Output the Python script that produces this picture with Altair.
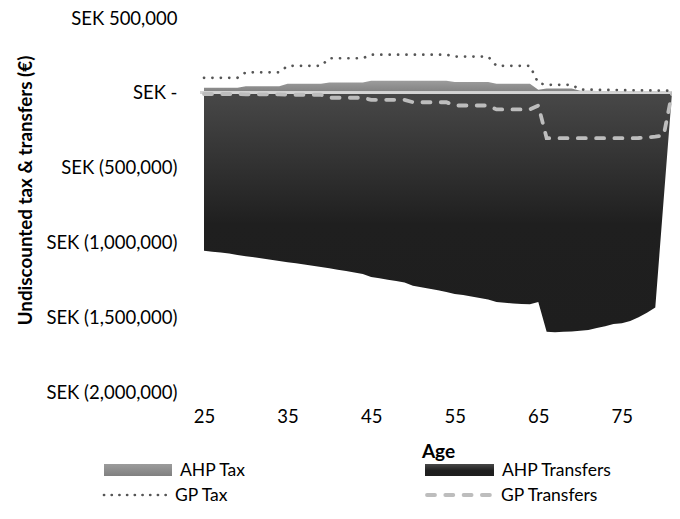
import altair as alt
import pandas as pd

# ---- data (SEK thousands) ----
ages = list(range(25, 82))

ahp_tax = [33] * 5 + [44] * 5 + [60] * 5 + [69] * 5 + [80] * 10 + [73] * 5 + [60] * 5 + \
    [20] + [28] * 4 + [13, 13, 12, 12, 11, 11, 10, 10, 9, 9, 8] + [0]

ahp_transfers = [-1056, -1062, -1068, -1075, -1085, -1092, -1100, -1108, -1116, -1124,
                 -1132, -1140, -1148, -1156, -1164, -1172, -1182, -1192, -1202, -1212,
                 -1232, -1240, -1250, -1258, -1268, -1290, -1300, -1310, -1320, -1332,
                 -1345, -1352, -1362, -1372, -1382, -1398, -1403, -1408, -1412, -1414,
                 -1398, -1598, -1600, -1598, -1596, -1590, -1585, -1572, -1560, -1545,
                 -1540, -1525, -1500, -1470, -1435, -715, 0]

gp_tax = [100] * 5 + [137] * 5 + [180] * 5 + [231] * 5 + [255] * 10 + [242] * 5 + [180] * 5 + \
    [65] + [53] * 4 + [22, 21, 20, 19, 19, 18, 17, 17, 16, 15, 15, 14]

gp_transfers = [-8] * 5 + [-10] * 5 + [-13] * 5 + [-33] * 5 + [-47] * 5 + [-63] * 5 + \
    [-85] * 5 + [-111] * 5 + [-85] + [-303] * 10 + [-304, -302, -298, -293, -285] + [-5]

x_ticks = [25, 35, 45, 55, 65, 75]
y_ticks = [500000, 0, -500000, -1000000, -1500000, -2000000]
legend_labels = ["AHP Tax", "AHP Transfers", "GP Tax", "GP Transfers"]

df = pd.DataFrame({
    "age": ages,
    "ahp_tax": [v * 1000 for v in ahp_tax],
    "ahp_transfers": [v * 1000 for v in ahp_transfers],
    "gp_tax": [v * 1000 for v in gp_tax],
    "gp_transfers": [v * 1000 for v in gp_transfers],
})

FONT = "Lato"

x_enc = alt.X("age:Q", scale=alt.Scale(domain=[25, 81], nice=False, zero=False),
              axis=alt.Axis(values=x_ticks, title="Age", grid=False, domain=False, ticks=False,
                            tickSize=0, labelPadding=15, labelFontSize=18.5, labelColor="#000000",
                            titleFontSize=19, titleFontWeight="bold", titleColor="#000000",
                            titleBaseline="alphabetic", titleY=65, labelFlush=False))

label_expr = ("datum.value == 0 ? 'SEK -' : (datum.value > 0 ? 'SEK ' + format(datum.value, ',') "
              ": 'SEK (' + format(-datum.value, ',') + ')')")

y_axis = alt.Axis(values=y_ticks, labelExpr=label_expr, grid=False, domain=False, ticks=False,
                  tickSize=0, labelPadding=27, labelFontSize=18.5, labelColor="#000000",
                  title="Undiscounted tax & transfers (€)", titleFontSize=18.8,
                  titleFontWeight="bold", titleColor="#000000", titleX=-179, titleY=172,
                  titleBaseline="middle", titleAngle=270)
y_scale = alt.Scale(domain=[-2000000, 500000], nice=False)

base = alt.Chart(df)

dark_grad = alt.Gradient(gradient="linear", x1=0, y1=0, x2=0, y2=1,
                         stops=[alt.GradientStop(color="#484848", offset=0),
                                alt.GradientStop(color="#1f1f1f", offset=0.55),
                                alt.GradientStop(color="#1e1e1e", offset=1)])
gray_grad = alt.Gradient(gradient="linear", x1=0, y1=0, x2=0, y2=1,
                         stops=[alt.GradientStop(color="#9c9c9c", offset=0),
                                alt.GradientStop(color="#808080", offset=1)])

transfers_area = base.mark_area(fill=dark_grad, interpolate="linear").encode(
    x=x_enc,
    y=alt.Y("ahp_transfers:Q", scale=y_scale, axis=y_axis),
    y2=alt.datum(0),
)
tax_area = base.mark_area(fill=gray_grad, interpolate="linear").encode(
    x="age:Q", y="ahp_tax:Q", y2=alt.datum(0)
)
zero_line = base.mark_rule(color="#d4d4d4", strokeWidth=2).encode(
    y=alt.datum(0), x=alt.value(-4), x2=alt.value(480)
)
gp_tax_line = base.mark_line(color="#555555", strokeWidth=2.7, strokeDash=[0.1, 8.3],
                             strokeCap="round").encode(x="age:Q", y="gp_tax:Q")
gp_tr_line = base.mark_line(color="#bdbdbd", strokeWidth=3.8, strokeDash=[8, 10.3],
                            strokeCap="round").encode(x="age:Q", y="gp_transfers:Q")

# ---- manual legend (pixel positions relative to plot origin) ----
one = alt.Chart(pd.DataFrame({"k": [0]}))
R1, R2 = 452, 477
leg_sw1 = one.mark_rect(fill=gray_grad).encode(
    x=alt.value(-100), x2=alt.value(-32), y=alt.value(R1 - 6), y2=alt.value(R1 + 6))
leg_sw2 = one.mark_rect(fill=dark_grad).encode(
    x=alt.value(221), x2=alt.value(290), y=alt.value(R1 - 6), y2=alt.value(R1 + 6))
leg_l3 = one.mark_rule(color="#555555", strokeWidth=2.7, strokeDash=[0.1, 7.6],
                       strokeCap="round").encode(
    x=alt.value(-100), x2=alt.value(-34), y=alt.value(R2))
leg_l4 = one.mark_rule(color="#bdbdbd", strokeWidth=3.8, strokeDash=[8, 10.3],
                       strokeCap="round").encode(
    x=alt.value(223), x2=alt.value(288), y=alt.value(R2))

text_style = dict(align="left", baseline="middle", font=FONT, fontSize=17.5, color="#000000")
leg_t1 = one.mark_text(text=legend_labels[0], **text_style).encode(x=alt.value(-24), y=alt.value(R1 + 1))
leg_t2 = one.mark_text(text=legend_labels[1], **text_style).encode(x=alt.value(298), y=alt.value(R1 + 1))
leg_t3 = one.mark_text(text=legend_labels[2], **text_style).encode(x=alt.value(-29), y=alt.value(R2 + 1))
leg_t4 = one.mark_text(text=legend_labels[3], **text_style).encode(x=alt.value(297), y=alt.value(R2 + 1))

chart = alt.layer(
    transfers_area, tax_area, zero_line, gp_tax_line, gp_tr_line,
    leg_sw1, leg_sw2, leg_l3, leg_l4, leg_t1, leg_t2, leg_t3, leg_t4,
).properties(
    width=468, height=374,
    background="white",
    autosize=alt.AutoSizeParams(type="none"),
    padding={"left": 196, "top": 10, "right": 0, "bottom": 114},
).configure_view(strokeWidth=0, stroke="transparent").configure_axis(
    labelFont=FONT, titleFont=FONT
)

chart.save("out.html", embed_options={"renderer": "svg", "actions": False})
